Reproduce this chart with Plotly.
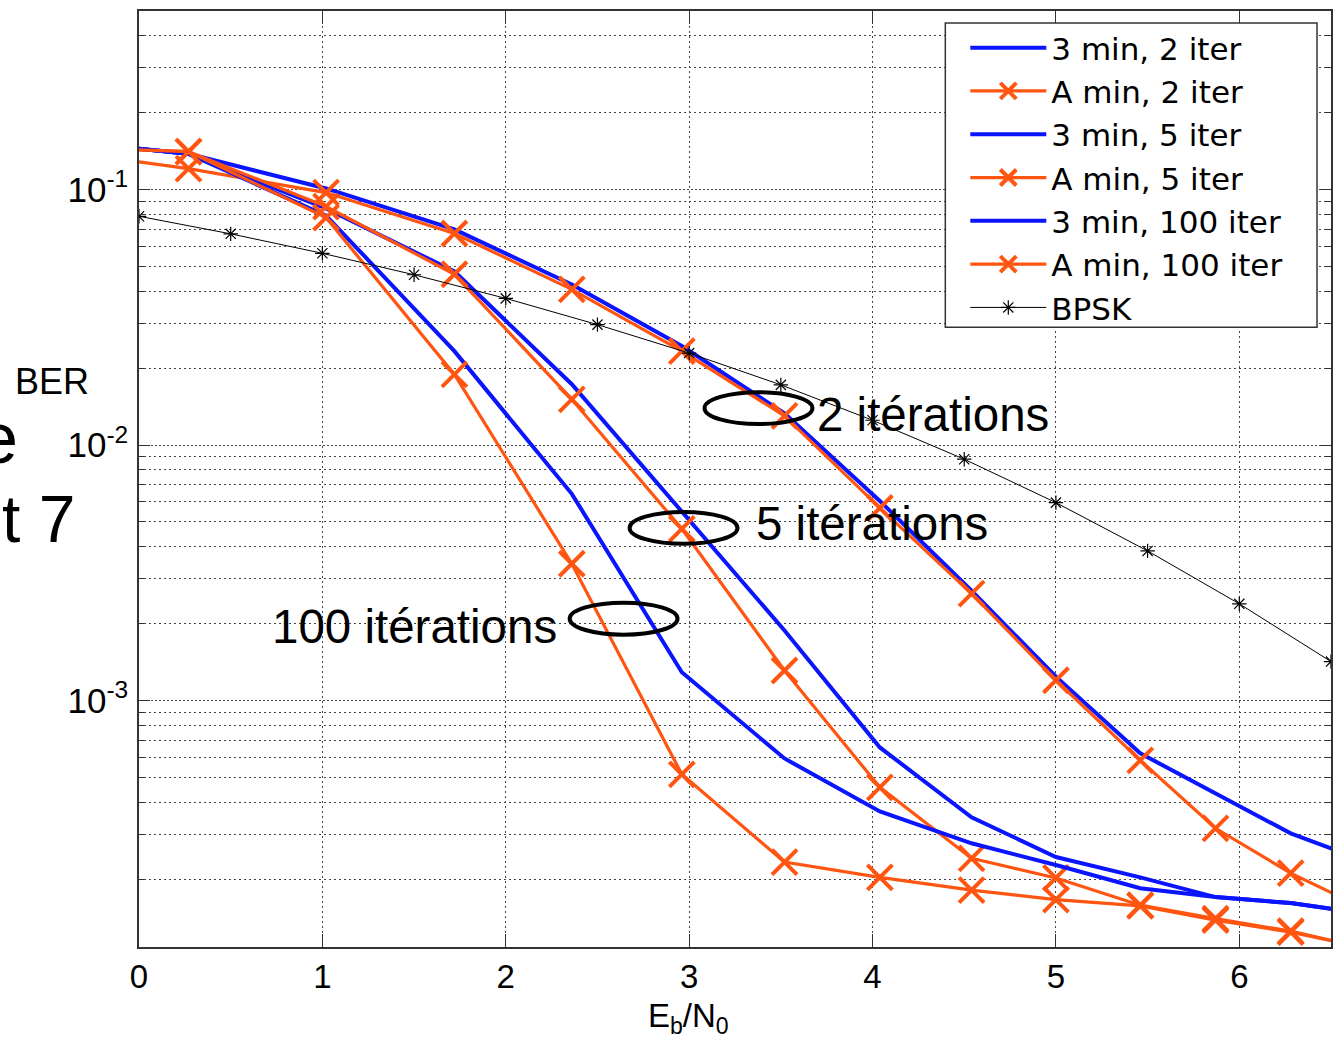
import plotly.graph_objects as go

# ---------------- data ----------------
ebn0 = [-0.5, 0.27, 1.02, 1.72, 2.36, 2.96, 3.52, 4.04, 4.54, 5.0, 5.46, 5.87, 6.28, 6.67]

ber_3min_2 = [0.157, 0.138, 0.101, 0.0698, 0.0425, 0.0244, 0.0133, 0.00604, 0.00269,
              0.00124, 0.000621, 0.000433, 0.000302, 0.000237]
ber_amin_2 = [0.1433, 0.1208, 0.0973, 0.0673, 0.0407, 0.0233, 0.0130, 0.00567, 0.00262,
              0.00120, 0.000583, 0.000316, 0.000211, 0.000155]
ber_3min_5 = [0.157, 0.138, 0.0843, 0.0478, 0.0173, 0.00552, 0.00188, 0.000655, 0.000349,
              0.000244, 0.000203, 0.000170, 0.000161, 0.000147]
ber_amin_5 = [0.147, 0.1407, 0.0858, 0.0466, 0.0151, 0.00470, 0.00131, 0.000457, 0.000241,
              0.000202, 0.000158, 0.000140, 0.000125, 0.000108]
ber_3min_100 = [0.157, 0.138, 0.0791, 0.0233, 0.00644, 0.00129, 0.000593, 0.000368, 0.000276,
                0.000227, 0.000184, 0.000170, 0.000161, 0.000147]
ber_amin_100 = [0.147, 0.1407, 0.0777, 0.0189, 0.00343, 0.000514, 0.000233, 0.000203, 0.000181,
                0.000166, 0.000157, 0.000138, 0.000124, 0.000108]

bpsk_x = [0, 0.5, 1, 1.5, 2, 2.5, 3, 3.5, 4, 4.5, 5, 5.5, 6, 6.5]
bpsk_ber = [0.0786, 0.0671, 0.0563, 0.0464, 0.0375, 0.0296, 0.0229, 0.0172, 0.0125,
            0.0088, 0.00595, 0.00385, 0.00239, 0.00142]

series_names = ["3 min, 2 iter", "A min, 2 iter", "3 min, 5 iter", "A min, 5 iter",
                "3 min, 100 iter", "A min, 100 iter"]
series_values = [ber_3min_2, ber_amin_2, ber_3min_5, ber_amin_5, ber_3min_100, ber_amin_100]

x_ticks = [0, 1, 2, 3, 4, 5, 6]
y_ticks = [1e-1, 1e-2, 1e-3]
y_ticktext = ["10<sup>-1</sup>", "10<sup>-2</sup>", "10<sup>-3</sup>"]

# ---------------- style ----------------
W, H = 1342, 1044
L, R, T, B = 139, 1332, 9, 947
BLUE = "#0a14ff"
ORANGE = "#ff5511"
GRID = "#444444"
FONT = "Liberation Sans"

def px(xp):
    return (xp - L) / (R - L)

def py(yp):
    return 1 - (yp - T) / (B - T)

fig = go.Figure()
for name, vals in zip(series_names, series_values):
    if name.startswith("3"):
        fig.add_trace(go.Scatter(x=ebn0, y=vals, name=name, mode="lines",
                                 line=dict(color=BLUE, width=4)))
    else:
        fig.add_trace(go.Scatter(x=ebn0, y=vals, name=name, mode="lines+markers",
                                 line=dict(color=ORANGE, width=3.2),
                                 marker=dict(symbol="x-thin-open", size=25, color=ORANGE,
                                             line=dict(color=ORANGE, width=4))))

fig.add_trace(go.Scatter(x=bpsk_x, y=bpsk_ber, name="BPSK", mode="lines+markers",
                         line=dict(color="black", width=1),
                         marker=dict(symbol="asterisk-open", size=12, color="black",
                                     line=dict(color="black", width=1.2))))

minor_vals = [m * 10.0 ** e for e in range(-4, 0) for m in range(2, 10)]

fig.update_layout(
    width=W, height=H,
    margin=dict(l=L, r=W - R, t=T, b=H - B),
    paper_bgcolor="white", plot_bgcolor="white",
    font=dict(family=FONT, size=32, color="black"),
    showlegend=True,
    legend=dict(x=px(966), y=py(19), xanchor="left", yanchor="top",
                bgcolor="rgba(0,0,0,0)", borderwidth=0,
                font=dict(family="DejaVu Sans", size=31, color="black"),
                itemwidth=76, tracegroupgap=0),
)

# legend frame (white box with border, drawn over the plot area)
fig.add_shape(type="rect", xref="paper", yref="paper", layer="above",
              x0=px(946), x1=px(1318), y0=py(326), y1=py(21),
              fillcolor="white", line=dict(color="#333333", width=1.5))

fig.update_xaxes(
    range=[0, 6.5], tickmode="array", tickvals=x_ticks,
    showline=True, linecolor="#333333", linewidth=1.5, mirror="ticks",
    ticks="inside", ticklen=13, tickcolor="#333333", tickwidth=1.2,
    showgrid=True, gridcolor=GRID, gridwidth=1, griddash="1.5px,3.5px",
    zeroline=False, tickfont=dict(size=33), ticklabelstandoff=0,
)
fig.update_yaxes(
    type="log", range=[-3.965, -0.301],
    tickmode="array", tickvals=y_ticks, ticktext=y_ticktext,
    showline=True, linecolor="#333333", linewidth=1.5, mirror="ticks",
    ticks="inside", ticklen=11, tickcolor="#333333", tickwidth=1.2,
    showgrid=True, gridcolor=GRID, gridwidth=1, griddash="2px,2px",
    zeroline=False, tickfont=dict(size=35), ticklabelstandoff=2,
    minor=dict(tickmode="array", tickvals=minor_vals, ticks="inside", ticklen=6,
               tickcolor="#333333", showgrid=True, gridcolor=GRID, gridwidth=1,
               griddash="1.5px,3.5px"),
)

# x-axis title (placed where the reference has it)
fig.add_annotation(text="E<sub>b</sub>/N<sub>0</sub>", xref="paper", yref="paper",
                   x=px(689), y=py(1018), xanchor="center", yanchor="middle",
                   showarrow=False, font=dict(size=33, family=FONT, color="black"))

# ellipses marking the groups of curves
for cx, cy in [(759, 407), (684, 527), (624, 618)]:
    fig.add_shape(type="circle", xref="paper", yref="paper",
                  x0=px(cx - 54), x1=px(cx + 54), y0=py(cy + 16), y1=py(cy - 16),
                  line=dict(color="black", width=4))

for text, xl, yc in [("2 itérations", 816, 413), ("5 itérations", 755, 523),
                     ("100 itérations", 270, 626)]:
    fig.add_annotation(text=text, xref="paper", yref="paper", x=px(xl), y=py(yc),
                       xanchor="left", yanchor="middle", showarrow=False,
                       font=dict(size=47.5, family=FONT, color="black"))

# fragments of the surrounding slide text
fig.add_annotation(text="BER", xref="paper", yref="paper", x=px(13), y=py(380),
                   xanchor="left", yanchor="middle", showarrow=False,
                   font=dict(size=36, family=FONT, color="black"))
fig.add_annotation(text="e", xref="paper", yref="paper", x=px(20), y=py(437),
                   xanchor="right", yanchor="middle", showarrow=False,
                   font=dict(size=72, family=FONT, color="black"))
fig.add_annotation(text="t 7", xref="paper", yref="paper", x=px(77), y=py(518),
                   xanchor="right", yanchor="middle", showarrow=False,
                   font=dict(size=66, family=FONT, color="black"))

fig.write_html("out.html", config={"displayModeBar": False},
               post_script="document.body.style.margin='0';document.body.style.padding='0';")
